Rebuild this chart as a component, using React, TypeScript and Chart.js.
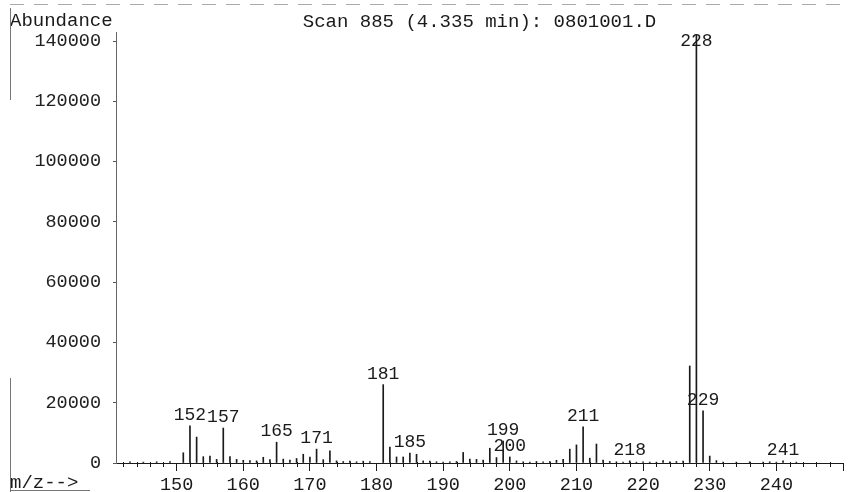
import React, { useEffect, useRef } from 'react';
import { Chart, registerables } from 'chart.js';

Chart.register(...registerables);

// ---- data ----
const mzValues = [143, 145, 147, 149, 151, 152, 153, 154, 155, 156, 157, 158, 159, 160, 161, 162, 163, 164, 165, 166, 167, 168, 169, 170, 171, 172, 173, 174, 175, 176, 177, 178, 179, 181, 182, 183, 184, 185, 186, 187, 188, 189, 190, 191, 192, 193, 194, 195, 196, 197, 198, 199, 200, 201, 202, 203, 204, 205, 206, 207, 208, 209, 210, 211, 212, 213, 214, 215, 216, 217, 218, 219, 220, 221, 222, 223, 224, 225, 226, 227, 228, 229, 230, 231, 232, 234, 236, 238, 239, 240, 241, 243];
const abundances = [400, 300, 400, 500, 3400, 12300, 8600, 2100, 2300, 1200, 11600, 2100, 1200, 900, 800, 700, 1900, 1100, 6900, 1300, 1000, 1500, 2900, 2000, 4600, 1100, 4000, 700, 500, 600, 400, 600, 500, 26000, 5300, 2000, 2000, 3300, 2900, 700, 600, 400, 300, 400, 500, 3500, 1300, 1200, 1000, 4900, 1800, 7300, 2000, 700, 400, 300, 500, 400, 500, 900, 1200, 4600, 6000, 12000, 1600, 6300, 1000, 500, 400, 300, 700, 300, 400, 300, 300, 800, 400, 500, 600, 32200, 142000, 17300, 2300, 800, 300, 300, 400, 300, 400, 300, 700, 300];
const peakLabels = [152, 157, 165, 171, 181, 185, 199, 200, 211, 218, 228, 229, 241];
const xMajorTicks = [150, 160, 170, 180, 190, 200, 210, 220, 230, 240, 250];
const xTickLabels = [150, 160, 170, 180, 190, 200, 210, 220, 230, 240];
const yTickLabels = [0, 20000, 40000, 60000, 80000, 100000, 120000, 140000];
const titleText = 'Scan 885 (4.335 min): 0801001.D';
const yAxisTitle = 'Abundance';
const xAxisTitle = 'm/z-->';

const MONO = '"Liberation Mono", "DejaVu Sans Mono", monospace';
const INK = '#1a1a1a';

const matchLabel = (list: number[], v: any) => {
  const n = Number(v);
  const hit = list.find((t) => Math.abs(t - n) < 1e-6);
  return hit === undefined ? '' : String(hit);
};

const extrasPlugin = {
  id: 'extras',
  afterDatasetsDraw(chart: any) {
    const { ctx, chartArea, scales } = chart;
    const xs = scales.x;
    const ys = scales.y;
    ctx.save();
    // minor ticks on x axis every 2 units
    ctx.strokeStyle = INK;
    ctx.lineWidth = 1;
    for (let v = Math.ceil(xs.min / 2) * 2; v <= xs.max; v += 2) {
      if (v % 10 === 0) continue;
      const px = Math.round(xs.getPixelForValue(v)) + 0.5;
      ctx.beginPath();
      ctx.moveTo(px, chartArea.bottom - 1);
      ctx.lineTo(px, chartArea.bottom + 4);
      ctx.stroke();
    }
    // peak labels
    ctx.fillStyle = INK;
    ctx.font = `18px ${MONO}`;
    ctx.textAlign = 'center';
    ctx.textBaseline = 'alphabetic';
    peakLabels.forEach((m) => {
      const i = mzValues.indexOf(m);
      if (i < 0) return;
      const px = xs.getPixelForValue(m);
      const py = ys.getPixelForValue(abundances[i]);
      const base = Math.max(py - 6, chartArea.top + 14);
      ctx.fillText(String(m), px, base);
    });
    // title texts
    ctx.font = `19px ${MONO}`;
    ctx.textAlign = 'center';
    ctx.fillText(titleText, (chartArea.left + chartArea.right) / 2, 27);
    ctx.textAlign = 'left';
    ctx.fillText(yAxisTitle, 10, 26);
    ctx.fillText(xAxisTitle, 10, 488);
    // scan frame remnants
    ctx.strokeStyle = '#777';
    ctx.beginPath();
    ctx.moveTo(10.5, 8);
    ctx.lineTo(10.5, 100);
    ctx.moveTo(10.5, 378);
    ctx.lineTo(10.5, 492);
    ctx.moveTo(10, 490.5);
    ctx.lineTo(90, 490.5);
    ctx.stroke();
    ctx.strokeStyle = '#aaa';
    ctx.setLineDash([14, 10]);
    ctx.beginPath();
    ctx.moveTo(10, 4.5);
    ctx.lineTo(850, 4.5);
    ctx.stroke();
    ctx.restore();
  },
};

export default function App() {
  const ref = useRef<HTMLCanvasElement>(null);
  useEffect(() => {
    if (!ref.current) return;
    const tickFont = { family: MONO, size: 18.5 };
    const chart = new Chart(ref.current, {
      type: 'bar',
      data: {
        datasets: [
          {
            data: mzValues.map((m, i) => ({ x: m, y: abundances[i] })),
            backgroundColor: INK,
            borderWidth: 0,
            barThickness: 1,
          },
        ],
      },
      options: {
        responsive: false,
        animation: false,
        devicePixelRatio: 1,
        layout: { padding: { top: 32, right: 9, left: 0, bottom: 0 } },
        plugins: {
          legend: { display: false },
          tooltip: { enabled: false },
          title: { display: false },
        },
        scales: {
          x: {
            type: 'linear',
            min: 140.9,
            max: 250,
            offset: false,
            afterBuildTicks: (s: any) => {
              s.ticks = xMajorTicks.map((v) => ({ value: v }));
            },
            ticks: {
              autoSkip: false,
              maxRotation: 0,
              padding: 3,
              color: INK,
              font: tickFont,
              callback: (v: any) => matchLabel(xTickLabels, v),
            },
            grid: {
              display: true,
              drawOnChartArea: false,
              drawTicks: true,
              tickLength: 8,
              color: INK,
              offset: false,
            },
            border: { display: true, color: INK, width: 1 },
            afterFit: (s: any) => {
              s.height = 29;
            },
          },
          y: {
            type: 'linear',
            min: 0,
            max: 143000,
            afterBuildTicks: (s: any) => {
              s.ticks = yTickLabels.map((v) => ({ value: v }));
            },
            ticks: {
              autoSkip: false,
              padding: 12,
              color: '#222',
              font: tickFont,
              callback: (v: any) => matchLabel(yTickLabels, v),
            },
            grid: {
              display: true,
              drawOnChartArea: false,
              drawTicks: true,
              tickLength: 3,
              color: '#555',
            },
            border: { display: true, color: '#666', width: 1, dash: [2, 6] },
            afterFit: (s: any) => {
              s.width = 116;
            },
          },
        },
      },
      plugins: [extrasPlugin],
    } as any);
    return () => chart.destroy();
  }, []);
  return (
    <canvas
      ref={ref}
      width={852}
      height={492}
      style={{ position: 'fixed', left: 0, top: 0, display: 'block', background: '#fff' }}
    />
  );
}
